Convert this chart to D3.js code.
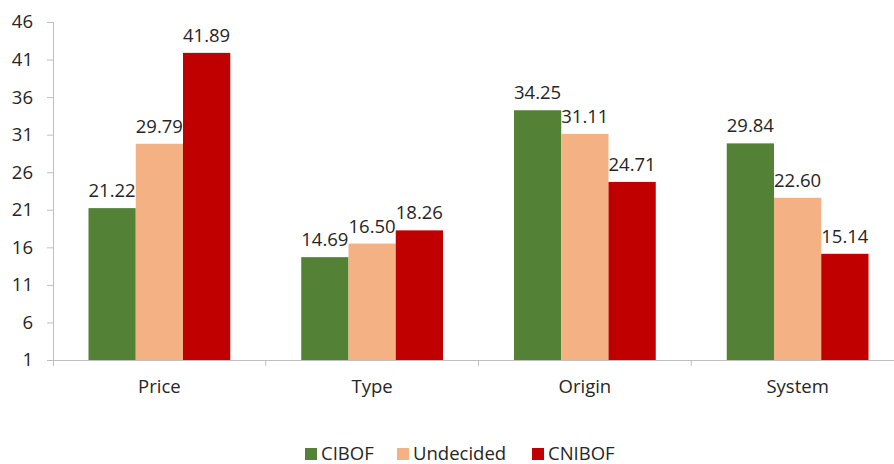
<!DOCTYPE html>
<html>
<head>
<meta charset="utf-8">
<script src="https://cdn.jsdelivr.net/npm/d3@7"></script>
<style>
  html, body { margin: 0; padding: 0; background: #fff; }
  svg text { font-family: "Open Sans", Lato, sans-serif; fill: #262626; }
</style>
</head>
<body>
<svg id="chart" width="894" height="464"></svg>
<script>
const categories = ["Price", "Type", "Origin", "System"];
const seriesNames = ["CIBOF", "Undecided", "CNIBOF"];
const cibof = [21.22, 14.69, 34.25, 29.84];
const undecided = [29.79, 16.50, 31.11, 22.60];
const cnibof = [41.89, 18.26, 24.71, 15.14];
const yTicks = [1, 6, 11, 16, 21, 26, 31, 36, 41, 46];
const colors = ["#538135", "#F4B183", "#C00000"];

const seriesValues = [cibof, undecided, cnibof];

const svg = d3.select("#chart");
const plotLeft = 53, plotRight = 904, plotTop = 22, plotBottom = 360;
const fontSize = 18.5;

const x = d3.scaleBand().domain(categories).range([plotLeft, plotRight]);
// the three bars of a group span about 2/3 of each category band
const xi = d3.scaleBand().domain(seriesNames).range([35.5, x.bandwidth() - 35.5]).padding(0);
const y = d3.scaleLinear().domain([1, 46]).range([plotBottom, plotTop]);

// y axis
const yAxis = d3.axisLeft(y).tickValues(yTicks).tickSize(6).tickPadding(14).tickFormat(d3.format("d"));
const gy = svg.append("g").attr("transform", `translate(${plotLeft},0)`).call(yAxis);
gy.select(".domain").attr("stroke", "#bfbfbf");
gy.selectAll(".tick line").attr("stroke", "#bfbfbf");
gy.selectAll(".tick text").attr("font-size", fontSize).style("fill", "#262626")
  .style("font-family", "'Open Sans', Lato, sans-serif");

// x axis: ticks sit on the boundaries between categories
const xAxis = d3.axisBottom(x).tickSize(6).tickSizeOuter(0).tickFormat(() => "");
const gx = svg.append("g").attr("transform", `translate(0,${plotBottom})`).call(xAxis);
gx.select(".domain").attr("stroke", "#bfbfbf");
gx.selectAll(".tick line").attr("stroke", "#bfbfbf")
  .attr("transform", `translate(${x.bandwidth() / 2},0)`);
gx.append("line").attr("x1", plotLeft + 0.5).attr("x2", plotLeft + 0.5).attr("y1", 0).attr("y2", 6).attr("stroke", "#bfbfbf");

// category labels
svg.append("g").selectAll("text").data(categories).join("text")
  .attr("x", d => x(d) + x.bandwidth() / 2)
  .attr("y", 393)
  .attr("text-anchor", "middle")
  .attr("font-size", fontSize)
  .text(d => d);

// bars and value labels
const groups = svg.append("g").selectAll("g").data(categories).join("g")
  .attr("transform", d => `translate(${x(d)},0)`);

seriesNames.forEach((s, si) => {
  groups.append("rect")
    .attr("x", xi(s))
    .attr("width", xi.bandwidth())
    .attr("y", (d, i) => y(seriesValues[si][i]))
    .attr("height", (d, i) => y(1) - y(seriesValues[si][i]))
    .attr("fill", colors[si]);
  groups.append("text")
    .attr("x", xi(s) + xi.bandwidth() / 2)
    .attr("y", (d, i) => y(seriesValues[si][i]) - 11)
    .attr("text-anchor", "middle")
    .attr("font-size", fontSize)
    .text((d, i) => seriesValues[si][i].toFixed(2));
});

// legend
const legendX = [305, 397, 532];
const legend = svg.append("g").selectAll("g").data(seriesNames).join("g")
  .attr("transform", (d, i) => `translate(${legendX[i]},448)`);
legend.append("rect").attr("width", 12).attr("height", 12).attr("fill", (d, i) => colors[i]);
legend.append("text").attr("x", 16).attr("y", 12).attr("font-size", fontSize).text(d => d);
</script>
</body>
</html>
